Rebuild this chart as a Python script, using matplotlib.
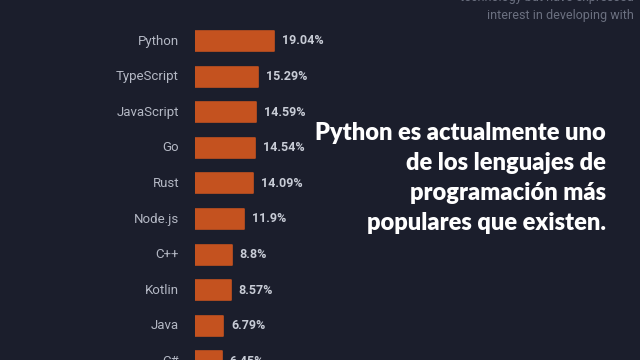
import matplotlib.pyplot as plt
import numpy as np

languages = ['Python', 'TypeScript', 'JavaScript', 'Go', 'Rust', 'Node.js',
             'C++', 'Kotlin', 'Java', 'C#']
percent = [19.04, 15.29, 14.59, 14.54, 14.09, 11.9, 8.8, 8.57, 6.79, 6.45]
value_labels = ['19.04%', '15.29%', '14.59%', '14.54%', '14.09%', '11.9%',
                '8.8%', '8.57%', '6.79%', '6.45%']

caption = ['Python es actualmente uno', 'de los lenguajes de',
           'programación más', 'populares que existen.']
corner_text = ['technology but have expressed', 'interest in developing with']

bg = '#1b1e2c'
bar_col = '#c4521f'

W, H = 640, 360
fig = plt.figure(figsize=(6.4, 3.6), dpi=100, facecolor=bg)

# axes starts where the bars start (x=195px), 4.15 px per percent
ax = fig.add_axes([195 / W, 0, (W - 195) / W, 1])
ax.set_facecolor('none')
ax.set_xlim(0, (W - 195) / 4.15)
row = 35.6
ax.set_ylim((H - 41) / row, -41 / row)
ax.axis('off')

y = np.arange(len(languages))
ax.barh(y, percent, height=20 / row, color=bar_col, edgecolor=bar_col,
        linewidth=1.2, joinstyle='round')

for i, (lang, p, lab) in enumerate(zip(languages, percent, value_labels)):
    ax.annotate(lang, (0, i), xytext=(-16, 0), textcoords='offset pixels',
                ha='right', va='center', fontsize=9.5, color='#b4b8c4',
                family='Roboto', annotation_clip=False)
    ax.annotate(lab, (p, i), xytext=(8, 0), textcoords='offset pixels',
                ha='left', va='center', fontsize=9, color='#c8ccd6',
                family='Roboto', fontweight='bold', annotation_clip=False)

# caption on the right
for k, line in enumerate(caption):
    fig.text(606 / W, 1 - (133 + 30 * k) / H, line, ha='right', va='center',
             fontsize=17, color='white', fontweight='heavy', family='Lato')

# faded text in the top right corner
for k, line in enumerate(corner_text):
    fig.text(634 / W, 1 - (-2 + 17 * k) / H, line, ha='right', va='center',
             fontsize=9, color='#6b7080', family='Roboto')

fig.savefig('out.png', dpi=100, facecolor=bg)
